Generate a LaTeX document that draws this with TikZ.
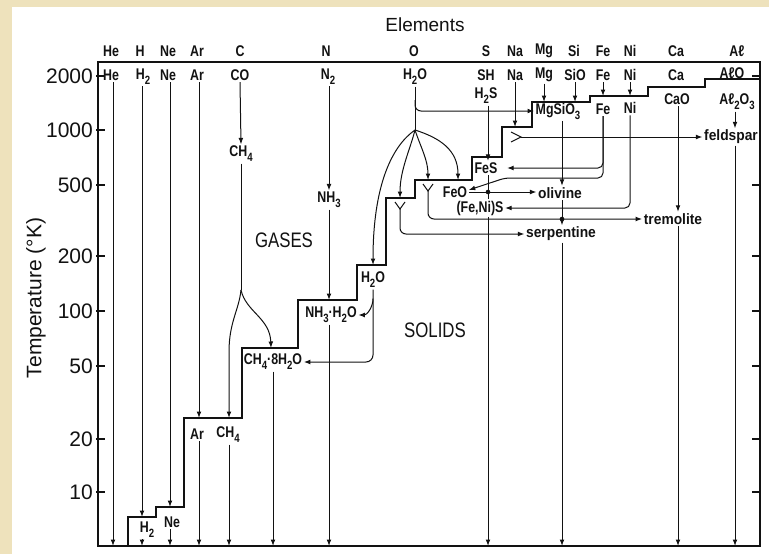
\documentclass[tikz,border=0pt]{standalone}
\usepackage{fontspec}
\setmainfont{Liberation Sans}
\newfontfamily\labf{Liberation Sans}[FakeStretch=0.8]
\newfontfamily\minf{Liberation Sans}[FakeStretch=0.92]
\usetikzlibrary{arrows.meta}
\definecolor{parch}{RGB}{238,226,188}
\definecolor{ink}{RGB}{18,18,18}
\newcommand\sbs[1]{\raisebox{-0.6ex}{\fontsize{12}{13}\selectfont #1}}
\begin{document}
\begin{tikzpicture}[x=1pt,y=-1pt,
 lbl/.style={font={\labf\bfseries\fontsize{15.5}{16}\selectfont},inner sep=1.5pt,text=ink},
 minl/.style={font={\minf\bfseries\fontsize{15}{16}\selectfont},inner sep=1.5pt,text=ink},
 bigl/.style={font={\labf\fontsize{21}{22}\selectfont},inner sep=0pt,text=ink},
 numl/.style={font={\fontsize{21}{22}\selectfont},inner sep=0pt,anchor=east,text=ink},
 ln/.style={line width=1pt,draw=ink},
 arr/.style={ln,-{Latex[length=6.5pt,width=4.8pt]}},
 stairl/.style={line width=2.5pt,draw=ink,line join=miter},
 frm/.style={line width=1.5pt,draw=ink},
 jdot/.style={circle,fill=ink,inner sep=0pt,minimum size=4.6pt},
 tickl/.style={line width=1.1pt,draw=ink}]
\useasboundingbox (0,0) rectangle (769,554);
\fill[parch] (0,0) rectangle (769,554);
\fill[white] (12,7) rectangle (769,554);

% frame
\draw[frm] (98,62) rectangle (760,546);

% axis ticks and numbers
\foreach \yy/\lv in {76/2000,130/1000,185/500,256/200,311/100,366/50,439/20,492/10}{
  \draw[tickl] (96,\yy) -- (105,\yy);
  \node[numl] (n\lv) at (93,\yy) {\lv};
}
\foreach \yy in {76,185,256,311,366,439,492}{
  \draw[tickl] (752,\yy) -- (760,\yy);
}
\node[font={\fontsize{21}{22}\selectfont},text=ink,rotate=90,inner sep=0pt] (ytitle) at (36,298) {Temperature (°K)};
\node[font={\fontsize{19}{21}\selectfont},text=ink,inner sep=0pt] (elem) at (425,25) {Elements};
\node[bigl] (gases) at (284,240) {GASES};
\node[bigl] (solids) at (435,330) {SOLIDS};

% condensation staircase
\draw[stairl] (128,546) -- (128,517) -- (156,517) -- (156,507) -- (184,507) -- (184,418)
  -- (242,418) -- (242,348) -- (298,348) -- (298,300) -- (357,300) -- (357,265)
  -- (386,265) -- (386,198) -- (415,198) -- (415,180) -- (472,180) -- (472,157)
  -- (502,157) -- (502,127) -- (532,127) -- (532,102) -- (590,102) -- (590,96)
  -- (648,96) -- (648,87) -- (705,87) -- (705,79) -- (760,79);

% header row
\node[lbl] (hHe) at (111,51) {He};
\node[lbl] (hH) at (140,51) {H};
\node[lbl] (hNe) at (168,51) {Ne};
\node[lbl] (hAr) at (197,51) {Ar};
\node[lbl] (hC) at (240,51) {C};
\node[lbl] (hN) at (326,51) {N};
\node[lbl] (hO) at (414,51) {O};
\node[lbl] (hS) at (486,51) {S};
\node[lbl] (hNa) at (515,51) {Na};
\node[lbl] (hMg) at (544,51) {Mg};
\node[lbl] (hSi) at (574,51) {Si};
\node[lbl] (hFe) at (603,51) {Fe};
\node[lbl] (hNi) at (630,51) {Ni};
\node[lbl] (hCa) at (676,51) {Ca};
\node[lbl] (hAl) at (737,51) {Aℓ};

% gas species at 2000 K
\node[lbl] (sHe) at (111,75) {He};
\node[lbl] (sH2) at (143,77) {H\sbs2};
\node[lbl] (sNe) at (168,75) {Ne};
\node[lbl] (sAr) at (197,75) {Ar};
\node[lbl] (sCO) at (240,75) {CO};
\node[lbl] (sN2) at (328,77) {N\sbs2};
\node[lbl] (sH2O) at (415,77) {H\sbs2O};
\node[lbl] (sSH) at (486,75) {SH};
\node[lbl] (sNa) at (515,75) {Na};
\node[lbl] (sMg) at (544,75) {Mg};
\node[lbl] (sSiO) at (575,75) {SiO};
\node[lbl] (sFe) at (603,75) {Fe};
\node[lbl] (sNi) at (630,75) {Ni};
\node[lbl] (sCa) at (676,75) {Ca};
\node[lbl] (sAlO) at (732,73) {AℓO};

% products
\node[lbl] (H2S) at (486,96) {H\sbs2S};
\node[lbl] (MgSiO3) at (558,111) {MgSiO\sbs3};
\node[lbl] (pFe) at (603,109) {Fe};
\node[lbl] (pNi) at (630,108) {Ni};
\node[lbl] (CaO) at (677,99) {CaO};
\node[lbl] (Al2O3) at (737,102) {Aℓ\sbs2O\sbs3};
\node[minl] (feldspar) at (731,137) {feldspar};
\node[lbl] (FeS) at (486,168) {FeS};
\node[lbl] (FeO) at (455,192) {FeO};
\node[lbl] (FeNiS) at (480,208) {(Fe,Ni)S};
\node[minl] (olivine) at (560,193) {olivine};
\node[minl] (tremolite) at (673,219) {tremolite};
\node[minl] (serpentine) at (561,234) {serpentine};
\node[lbl] (CH4a) at (241,154) {CH\sbs4};
\node[lbl] (NH3) at (329,200) {NH\sbs3};
\node[lbl] (H2Os) at (373,280) {H\sbs2O};
\node[lbl] (NH3H2O) at (331,315) {NH\sbs3·H\sbs2O};
\node[lbl] (CH48H2O) at (273,362) {CH\sbs4·8H\sbs2O};
\node[lbl] (ArB) at (197,434) {Ar};
\node[lbl] (CH4b) at (228,435) {CH\sbs4};
\node[lbl] (H2b) at (147,530) {H\sbs2};
\node[lbl] (Neb) at (172,522) {Ne};

% coordinates: bottom axis ends and step targets
\coordinate (bHe) at (113,546);
\coordinate (bH) at (142,546);
\coordinate (bNe) at (170,546);
\coordinate (bAr) at (199,546);
\coordinate (bCH4) at (229,546);
\coordinate (bCl) at (273,546);
\coordinate (bN) at (329,546);
\coordinate (bS) at (488,546);
\coordinate (bSi) at (562,546);
\coordinate (bCa) at (678,546);
\coordinate (bAl) at (735,546);
\coordinate (tH) at (142,517);
\coordinate (tNe) at (170,507);
\coordinate (tAr) at (199,418);
\coordinate (tCH4) at (229,418);
\coordinate (tCl) at (271,348);
\coordinate (tNH3) at (329,300);
\coordinate (tH2Os) at (373,265);
\coordinate (tNa) at (515,127);
\coordinate (tMg) at (544,102);
\coordinate (tSiO) at (575,102);
\coordinate (tFe) at (603,96);
\coordinate (tNi) at (630,96);
\coordinate (tY1) at (400,198);
\coordinate (tY2) at (428,180);
\coordinate (tFeO) at (458,180);
\coordinate (csplit) at (241,290);
\coordinate (br1) at (415,100);
\coordinate (br2) at (415,130);
\coordinate (y1) at (400,209);
\coordinate (y2) at (428,191);
\coordinate (gt) at (521,137);
\coordinate (fe2) at (505,178);

% left-hand gases
\draw[arr] (sHe.south -| bHe) -- (bHe);
\draw[arr] (sH2.south -| bH) -- (tH);
\draw[arr] (H2b.south -| bH) -- (bH);
\draw[arr] (sNe.south -| bNe) -- (tNe);
\draw[arr] (Neb.south -| bNe) -- (bNe);
\draw[arr] (sAr.south -| bAr) -- (tAr);
\draw[arr] (ArB.south -| bAr) -- (bAr);

% carbon
\draw[arr] (sCO.south) -- (CH4a.north);
\draw[ln] (CH4a.south) -- (csplit);
\draw[arr] (csplit) .. controls (239,310) and (229,322) .. (229,352) -- (tCH4);
\draw[arr] (csplit) .. controls (246,312) and (270,318) .. (tCl);
\draw[arr] (CH4b.south -| bCH4) -- (bCH4);
\draw[arr] (CH48H2O.south -| bCl) -- (bCl);

% nitrogen
\draw[arr] (sN2.south -| bN) -- (NH3.north -| bN);
\draw[arr] (NH3.south -| bN) -- (tNH3);
\draw[arr] (NH3H2O.south -| bN) -- (bN);

% oxygen
\draw[ln] (sH2O.south -| br1) -- (br2);
\draw[arr,rounded corners=6] (br1) |- (MgSiO3.west);
\draw[arr] (br2) .. controls (392,146) and (373,185) .. (tH2Os);
\draw[arr] (br2) .. controls (410,150) and (400,170) .. (tY1);
\draw[arr] (br2) .. controls (421,148) and (428,160) .. (tY2);
\draw[arr] (br2) .. controls (440,138) and (458,150) .. (tFeO);
\draw[ln] (395,202) -- (y1) -- (405,202);
\draw[arr,rounded corners=6] (y1) |- (serpentine.west);
\draw[ln] (423,184) -- (y2) -- (433,184);
\draw[arr,rounded corners=6] (y2) |- (tremolite.west);
\draw[arr,rounded corners=7] (H2Os.south) |- (CH48H2O.east);
\draw[arr] ([yshift=-9pt]H2Os.south) to[out=-90,in=0] (NH3H2O.east);

% sulfur
\draw[arr] (H2S.south -| bS) -- (FeS.north -| bS);
\draw[ln] (FeS.south -| bS) -- (FeNiS.north -| bS);
\draw[arr] (FeNiS.south -| bS) -- (bS);

% sodium
\draw[arr] (sNa.south) -- (tNa);
\draw[ln] (511,132) -- (gt) -- (511,142);
\draw[arr] (gt) -- (feldspar.west);

% magnesium, silicon
\draw[arr] (sMg.south) -- (tMg);
\draw[arr] (sSiO.south) -- (tSiO);
\draw[arr] (MgSiO3.south -| bSi) -- (olivine.north -| bSi);
\draw[arr] (olivine.south -| bSi) -- (serpentine.north -| bSi);
\draw[arr] (serpentine.south -| bSi) -- (bSi);

% iron, nickel
\draw[arr] (sFe.south) -- (tFe);
\draw[arr] (sNi.south) -- (tNi);
\draw[arr,rounded corners=5] (pFe.south) |- ([xshift=8pt]FeS.east);
\draw[arr,rounded corners=5] (pFe.south) |- (fe2) -- ([yshift=2pt]FeO.east);
\draw[arr,rounded corners=5] (pNi.south) |- (FeNiS.east);
\draw[arr] (FeO.east) -- (FeO.east -| olivine.west);

% calcium, aluminium
\draw[arr] (CaO.south -| bCa) -- (tremolite.north -| bCa);
\draw[arr] (tremolite.south -| bCa) -- (bCa);
\draw[arr] (Al2O3.south -| bAl) -- (feldspar.north -| bAl);
\draw[arr] (feldspar.south -| bAl) -- (bAl);

% junction dots
\node[jdot] (d1) at (488,192) {};
\node[jdot] (d2) at (562,219) {};
\end{tikzpicture}
\end{document}
